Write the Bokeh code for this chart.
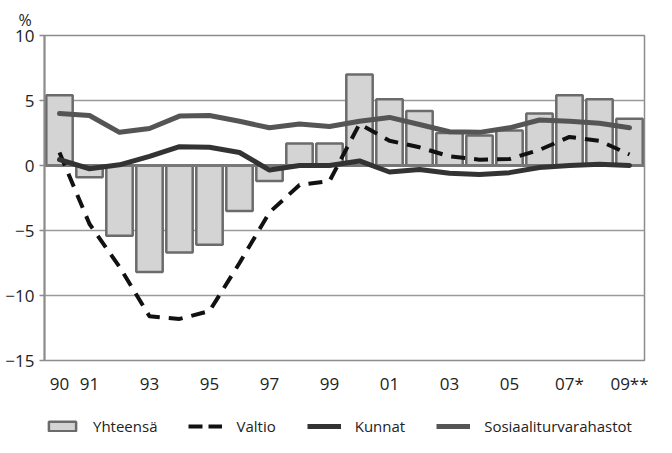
from bokeh.plotting import figure
from bokeh.layouts import column
from bokeh.models import (FixedTicker, Legend, LegendItem, ColumnDataSource, Range1d)
from bokeh.embed import file_html
from bokeh.resources import INLINE

years = list(range(1990, 2010))
yhteensa = [5.4, -0.9, -5.4, -8.2, -6.7, -6.1, -3.5, -1.2, 1.7, 1.7,
            7.0, 5.1, 4.2, 2.5, 2.3, 2.7, 4.0, 5.4, 5.1, 3.6]
valtio = [1.0, -4.5, -7.8, -11.6, -11.8, -11.2, -7.5, -3.6, -1.5, -1.2,
          3.2, 1.9, 1.4, 0.7, 0.45, 0.5, 1.2, 2.2, 1.9, 0.85]
kunnat = [0.45, -0.25, 0.05, 0.7, 1.45, 1.4, 1.0, -0.35, 0.0, 0.0,
          0.35, -0.5, -0.3, -0.6, -0.7, -0.55, -0.15, 0.0, 0.1, 0.0]
sosiaali = [4.0, 3.85, 2.55, 2.85, 3.8, 3.85, 3.4, 2.9, 3.2, 3.0,
            3.4, 3.7, 3.15, 2.6, 2.55, 2.9, 3.5, 3.4, 3.25, 2.9]
tick_years = [1990, 1991, 1993, 1995, 1997, 1999, 2001, 2003, 2005, 2007, 2009]
tick_labels = ["90", "91", "93", "95", "97", "99", "01", "03", "05", "07*", "09**"]
y_ticks = [-15, -10, -5, 0, 5, 10]
series_names = ["Yhteensä", "Valtio", "Kunnat", "Sosiaaliturvarahastot"]

FONT = "Open Sans"
TXT = "#222222"
BAR_FILL, BAR_LINE = "#d4d4d4", "#6b6b6b"
VAL_C, KUN_C, SOS_C = "#111111", "#333333", "#555555"

idx = list(range(len(years)))
src = ColumnDataSource(dict(x=idx, yht=yhteensa, val=valtio, kun=kunnat, sos=sosiaali))
x_lo, x_hi = -0.5, len(years) - 0.5

p = figure(width=656, height=408, output_backend="svg", toolbar_location=None,
           x_range=Range1d(x_lo, x_hi), y_range=Range1d(-15, 10),
           title="%")
p.min_border_left = 44
p.min_border_right = 12
p.min_border_top = 35
p.min_border_bottom = 48
p.background_fill_color = "white"
p.border_fill_color = "white"
p.outline_line_color = "#8c8c8c"
p.outline_line_width = 1.5

p.title.text_font = FONT
p.title.text_font_size = "16px"
p.title.text_font_style = "normal"
p.title.text_color = TXT
p.title.align = "left"
p.title.offset = -26
p.title.standoff = 10

p.yaxis.ticker = FixedTicker(ticks=y_ticks)
p.yaxis.axis_line_color = "#8c8c8c"
p.yaxis.axis_line_width = 2
p.yaxis.major_tick_out = 5
p.yaxis.major_tick_in = 0
p.yaxis.major_tick_line_color = "#8c8c8c"
p.yaxis.major_tick_line_width = 1.5
p.yaxis.minor_tick_line_color = None
p.yaxis.major_label_text_font = FONT
p.yaxis.major_label_text_font_size = "17px"
p.yaxis.major_label_text_color = TXT
p.yaxis.major_label_standoff = 5

p.xaxis.ticker = FixedTicker(ticks=[years.index(y) for y in tick_years])
p.xaxis.major_label_overrides = {years.index(y): l for y, l in zip(tick_years, tick_labels)}
p.xaxis.axis_line_color = None
p.xaxis.major_tick_line_color = None
p.xaxis.minor_tick_line_color = None
p.xaxis.major_label_text_font = FONT
p.xaxis.major_label_text_font_size = "17px"
p.xaxis.major_label_text_color = TXT
p.xaxis.major_label_standoff = 5

p.xgrid.grid_line_color = None
p.ygrid.ticker = FixedTicker(ticks=[t for t in y_ticks if t not in (0, -15, 10)])
p.ygrid.grid_line_color = "#9a9a9a"
p.ygrid.grid_line_width = 1.5

p.vbar(x="x", top="yht", bottom=0, width=0.88, source=src,
       fill_color=BAR_FILL, line_color=BAR_LINE, line_width=2.5)
p.line(x=[x_lo, x_hi], y=[0, 0], line_color="#777777", line_width=3)
p.line(x="x", y="val", source=src, line_color=VAL_C, line_width=4,
       line_dash="14 9", line_join="round")
p.line(x="x", y="kun", source=src, line_color=KUN_C, line_width=5,
       line_join="round", line_cap="round")
p.line(x="x", y="sos", source=src, line_color=SOS_C, line_width=5,
       line_join="round", line_cap="round")

# legend strip: swatch-only renderers (a single empty NaN row, nothing is drawn)
lg = figure(width=656, height=29, output_backend="svg", toolbar_location=None,
            x_range=Range1d(x_lo, x_hi), y_range=Range1d(0, 1), min_border=0,
            x_axis_location=None, y_axis_location=None)
lg.grid.visible = False
lg.outline_line_color = None
lg.background_fill_color = "white"
lg.border_fill_color = "white"
nan_src = ColumnDataSource(dict(x=[float("nan")], y=[float("nan")]))
r_bar = lg.vbar(x="x", top="y", bottom=0, width=0.88, source=nan_src,
                fill_color=BAR_FILL, line_color=BAR_LINE, line_width=2.5)
r_val = lg.line(x="x", y="y", source=nan_src, line_color=VAL_C, line_width=4,
                line_dash="14 6")
r_kun = lg.line(x="x", y="y", source=nan_src, line_color=KUN_C, line_width=5)
r_sos = lg.line(x="x", y="y", source=nan_src, line_color=SOS_C, line_width=5)

legend = Legend(items=[LegendItem(label=series_names[0], renderers=[r_bar]),
                       LegendItem(label=series_names[1], renderers=[r_val]),
                       LegendItem(label=series_names[2], renderers=[r_kun]),
                       LegendItem(label=series_names[3], renderers=[r_sos])],
                orientation="horizontal", location=(1, 1))
legend.label_text_font = FONT
legend.label_text_font_size = "15px"
legend.label_text_color = TXT
legend.glyph_width = 34
legend.glyph_height = 12
legend.label_standoff = 14
legend.spacing = 31
legend.padding = 0
legend.margin = 0
legend.border_line_color = None
legend.background_fill_alpha = 0
lg.add_layout(legend, "center")

layout = column(p, lg, spacing=0)
open("out.html", "w").write(file_html(layout, INLINE))
